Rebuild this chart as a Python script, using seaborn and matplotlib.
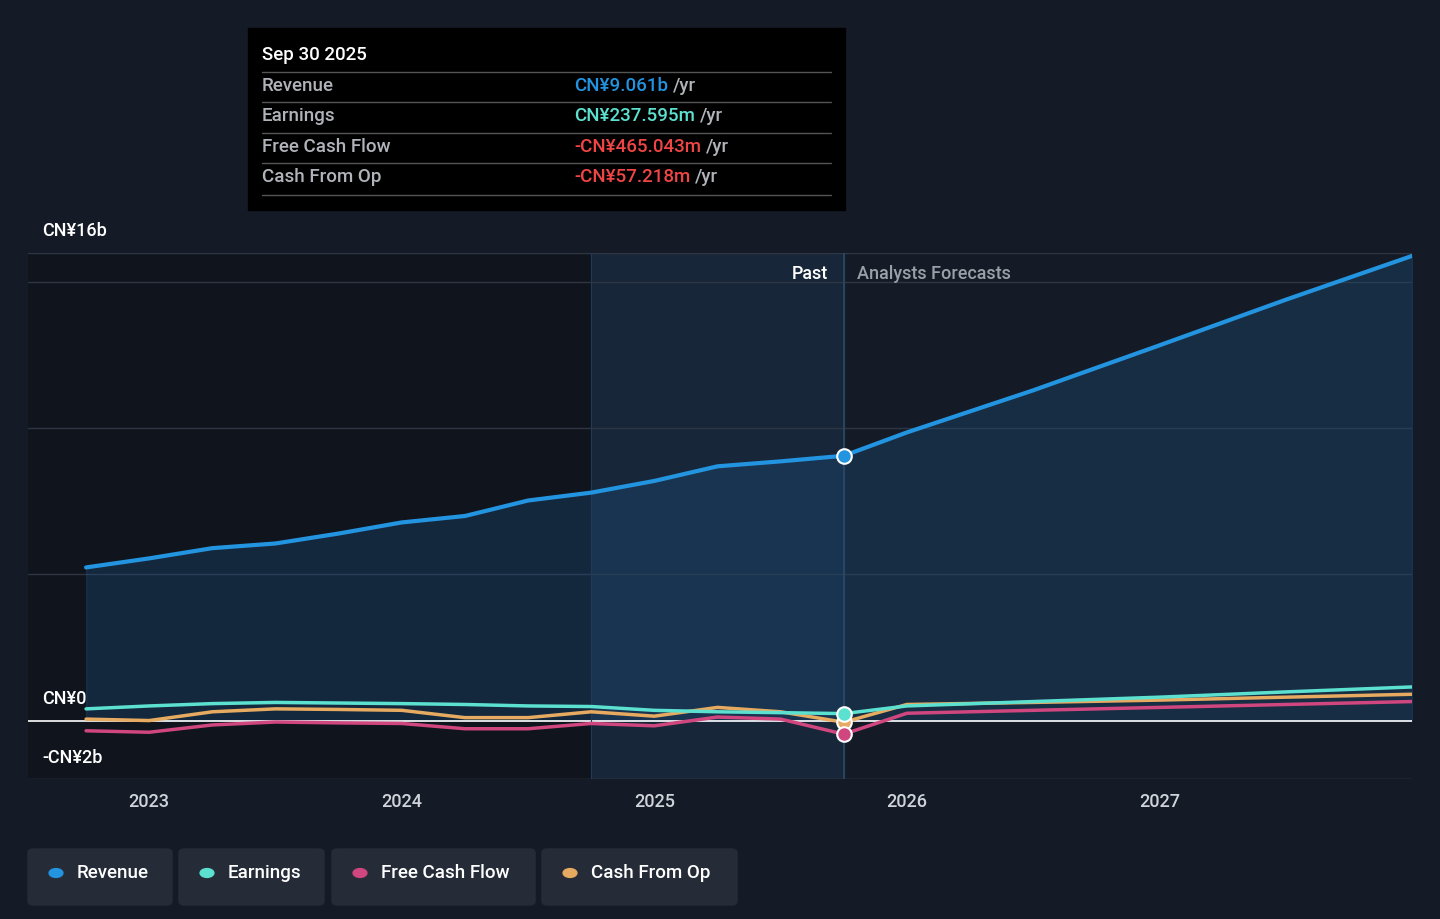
import matplotlib
matplotlib.use("Agg")
import matplotlib.pyplot as plt
import seaborn as sns
import pandas as pd
import numpy as np
from matplotlib.patches import FancyBboxPatch, Rectangle

sns.set_theme(style="dark")
plt.rcParams['font.family'] = ['Roboto', 'DejaVu Sans']
plt.rcParams['font.weight'] = 'medium'

years_past = [2022.75, 2023.0, 2023.25, 2023.5, 2023.75, 2024.0, 2024.25, 2024.5, 2024.75, 2025.0, 2025.25, 2025.5, 2025.75]
revenue_past = [5.24, 5.55, 5.9, 6.06, 6.4, 6.78, 7.0, 7.53, 7.8, 8.2, 8.7, 8.87, 9.061]
earnings_past = [0.4, 0.5, 0.58, 0.62, 0.6, 0.58, 0.55, 0.5, 0.48, 0.35, 0.3, 0.27, 0.238]
fcf_past = [-0.35, -0.4, -0.15, -0.05, -0.08, -0.1, -0.28, -0.28, -0.1, -0.18, 0.12, 0.05, -0.465]
cfo_past = [0.05, 0.0, 0.3, 0.4, 0.38, 0.35, 0.1, 0.1, 0.3, 0.15, 0.45, 0.3, -0.057]
years_fc = [2025.75, 2026.0, 2026.5, 2027.0, 2027.5, 2028.0]
revenue_fc = [9.061, 9.86, 11.3, 12.84, 14.4, 15.9]
earnings_fc = [0.238, 0.5, 0.65, 0.8, 0.98, 1.15]
fcf_fc = [-0.465, 0.25, 0.35, 0.45, 0.55, 0.65]
cfo_fc = [-0.057, 0.55, 0.62, 0.7, 0.8, 0.9]

BG = "#151b26"
fig = plt.figure(figsize=(14.4, 9.19), dpi=100, facecolor=BG)
ax = fig.add_axes([28/1440, 1-779/919, (1412-28)/1440, (779-253)/919])
ax.set_facecolor(BG)
x0, x1 = 2022.52, 2028.0
ax.set_xlim(x0, x1); ax.set_ylim(-2, 16)
ax.axvspan(x0, 2024.75, color="#10141c", zorder=0)
ax.axvspan(2024.75, 2025.75, color="#19304a", alpha=0.55, zorder=0)
for g in [5, 10, 15, 16]:
    ax.axhline(g, color="#2e3644", lw=1, zorder=1)
ax.axhline(0, color="white", lw=1.2, zorder=2)
ax.axvline(2025.75, color="#2b4a6a", lw=1.2, zorder=2)
ax.axvline(2024.75, color="#223a55", lw=0.8, zorder=2)

yrs = years_past + years_fc[1:]
rev = revenue_past + revenue_fc[1:]
ax.fill_between(yrs, 0, rev, color="#1d4f7c", alpha=0.35, zorder=1)

series = [
    ("Revenue", revenue_past, revenue_fc, "#2394e0"),
    ("Earnings", earnings_past, earnings_fc, "#5ce0d0"),
    ("Free Cash Flow", fcf_past, fcf_fc, "#d0467f"),
    ("Cash From Op", cfo_past, cfo_fc, "#e6aa60"),
]
for name, p, f, c in series[::-1]:
    df = pd.DataFrame({"x": yrs, "y": p + f[1:]})
    sns.lineplot(data=df, x="x", y="y", ax=ax, color=c, lw=3 if name == "Revenue" else 2.5, zorder=3)
    ax.scatter([2025.75], [p[-1]], s=110, color=c, edgecolor="white", lw=1.5, zorder=5)

for s in ax.spines.values(): s.set_visible(False)
ax.set_xlabel(""); ax.set_ylabel("")
ax.set_yticks([])
ax.set_xticks([2023, 2024, 2025, 2026, 2027])
ax.set_xticklabels(["2023", "2024", "2025", "2026", "2027"], color="#d0d4da", fontsize=13)
ax.tick_params(axis="x", length=0, pad=10)
ax.axhline(-2, color="#3a4250", lw=1)

fig.text(42/1440, 1-231/919, "CN¥16b", color="white", fontsize=13, va="center")
fig.text(42/1440, 1-699/919, "CN¥0", color="white", fontsize=13, va="center")
fig.text(42/1440, 1-758/919, "-CN¥2b", color="white", fontsize=13, va="center")
fig.text(828/1440, 1-274/919, "Past", color="white", fontsize=13, ha="right", va="center")
fig.text(857/1440, 1-274/919, "Analysts Forecasts", color="#9aa0a8", fontsize=13, va="center")

# tooltip
fig.patches.append(Rectangle((248/1440, 1-210/919), (845-248)/1440, (210-28)/919, transform=fig.transFigure, color="black", zorder=10))
fig.text(262/1440, 1-55/919, "Sep 30 2025", color="white", fontsize=13.5, va="center", zorder=11)
rows = [("Revenue", "CN¥9.061b", "#2394e0", 86), ("Earnings", "CN¥237.595m", "#5ce0d0", 116),
        ("Free Cash Flow", "-CN¥465.043m", "#f04545", 147), ("Cash From Op", "-CN¥57.218m", "#f04545", 177)]
for lab, val, c, y in rows:
    fig.lines.append(plt.Line2D([262/1440, 831/1440], [1-(y-14)/919]*2, transform=fig.transFigure, color="#555", lw=1, zorder=11))
    fig.text(262/1440, 1-y/919, lab, color="#b0b4ba", fontsize=13.5, va="center", zorder=11)
    t = fig.text(574/1440, 1-y/919, val, color=c, fontsize=13.5, va="center", zorder=11)
    fig.canvas.draw()
    bb = t.get_window_extent()
    fig.text(bb.x1/1440 + 5/1440, 1-y/919, "/yr", color="#b0b4ba", fontsize=13.5, va="center", zorder=11)
fig.lines.append(plt.Line2D([262/1440, 831/1440], [1-195/919]*2, transform=fig.transFigure, color="#555", lw=1, zorder=11))

# legend buttons
btns = [("Revenue", "#2394e0", 28, 172), ("Earnings", "#5ce0d0", 179, 324),
        ("Free Cash Flow", "#d0467f", 332, 535), ("Cash From Op", "#e6aa60", 542, 737)]
for lab, c, l, r in btns:
    fig.patches.append(FancyBboxPatch((l/1440, 1-905/919), (r-l)/1440, 56/919, boxstyle="round,pad=0,rounding_size=0.004",
                                      transform=fig.transFigure, color="#252c38", zorder=10))
    fig.patches.append(plt.Circle(((l+28)/1440, 1-873/919), 0.0048, transform=fig.transFigure, color=c, zorder=11))
    fig.text((l+49)/1440, 1-873/919, lab, color="white", fontsize=13.5, va="center", zorder=11)

fig.savefig("out.png", dpi=100, facecolor=BG)
